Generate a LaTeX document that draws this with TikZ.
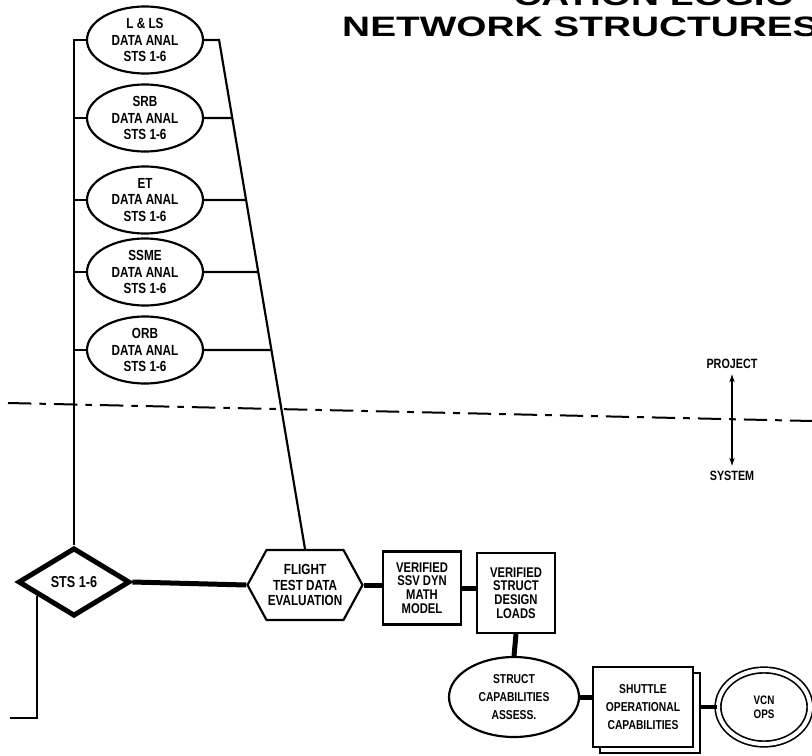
\documentclass[tikz,border=0pt]{standalone}
\usepackage{fontspec}
\setmainfont{Liberation Sans}
\newfontfamily\chartfont{Liberation Sans}[FakeStretch=0.8]
\newfontfamily\titlefont{Liberation Sans}[FakeStretch=1.38]
\usepackage{tikz}
\usetikzlibrary{
  shapes.geometric,
  shapes.symbols,
  arrows.meta,
  positioning,
  calc,
  shadows
}
\tikzset{
  anal/.style = {
    ellipse, draw, line width=0.65mm, inner sep=0pt,
    minimum width=34.8mm, minimum height=20.1mm,
    align=center, font=\chartfont\bfseries\fontsize{12.5}{14}\selectfont
  },
  flight/.style = {
    diamond, draw, line width=1.5mm, inner sep=0pt, aspect=1.6,
    minimum width=33.5mm, minimum height=20.5mm,
    font=\chartfont\bfseries\fontsize{13.5}{14}\selectfont
  },
  evalhex/.style = {
    signal, signal to=east and west, signal pointer angle=123,
    draw, line width=0.65mm, inner sep=0pt,
    minimum width=34.5mm, minimum height=21mm,
    align=center, font=\chartfont\bfseries\fontsize{12.5}{13.6}\selectfont
  },
  product/.style = {
    rectangle, draw, line width=0.65mm, inner sep=0pt,
    minimum width=#1, align=center,
    font=\chartfont\bfseries\fontsize{12}{11.6}\selectfont
  },
  product/.default = 23.5mm,
  assessnode/.style = {
    ellipse, draw, line width=0.65mm, inner sep=0pt,
    minimum width=39mm, minimum height=24mm,
    align=center, font=\chartfont\bfseries\fontsize{11}{15}\selectfont
  },
  docstack/.style = {
    rectangle, draw, fill=white, line width=0.65mm, inner sep=0pt,
    minimum width=30mm, minimum height=24mm,
    copy shadow={shadow xshift=2.1mm, shadow yshift=-1.8mm,
                 draw=black, fill=white, line width=0.65mm},
    align=center, font=\chartfont\bfseries\fontsize{11}{15}\selectfont
  },
  milestone/.style = {
    ellipse, draw, line width=0.5mm, double, double distance=1.2mm,
    inner sep=0pt, minimum width=27.6mm, minimum height=22.2mm,
    align=center, font=\chartfont\bfseries\fontsize{10.5}{12}\selectfont
  },
  levellbl/.style = {
    inner sep=1.6mm, font=\chartfont\bfseries\fontsize{11.5}{12}\selectfont
  },
  thinln/.style  = {draw, line width=0.65mm},
  thickln/.style = {draw, line width=1.5mm},
  levelarr/.style = {{Stealth[length=2.4mm, width=1.6mm]}-{Stealth[length=2.4mm, width=1.6mm]},
                     draw, line width=0.5mm},
  divider/.style = {draw, line width=0.6mm, dash pattern=on 7mm off 2.4mm on 2mm off 2.4mm},
}

\begin{document}
\begin{tikzpicture}[x=0.3mm, y=-0.3mm]

  \useasboundingbox (0,0) rectangle (812,755);
  \clip (0,0) rectangle (812,755);

  % Title
  \node[anchor=base east, inner sep=0pt,
        font=\titlefont\bfseries\fontsize{24}{26}\selectfont] (ttlone) at (793,6)
    {CATION LOGIC};
  \node[anchor=base west, inner sep=0pt,
        font=\titlefont\bfseries\fontsize{24}{26}\selectfont] (ttltwo) at (342,37)
    {NETWORK STRUCTURES};

  % Data analyses
  \node[anal] (lls)  at (145,40)  {L \& LS\\DATA ANAL\\STS 1-6};
  \node[anal] (srb)  at (145,118) {SRB\\DATA ANAL\\STS 1-6};
  \node[anal] (et)   at (145,200) {ET\\DATA ANAL\\STS 1-6};
  \node[anal] (ssme) at (145,272) {SSME\\DATA ANAL\\STS 1-6};
  \node[anal] (orb)  at (145,350) {ORB\\DATA ANAL\\STS 1-6};

  \node[flight] (sts) at (74,582) {STS 1-6};

  \node[evalhex] (fte) at (305,585) {FLIGHT\\TEST DATA\\EVALUATION};

  \node[product, minimum height=21.9mm] (dynmodel) at (422,588)
    {VERIFIED\\SSV DYN\\MATH\\MODEL};
  \node[product, minimum height=24mm] (loads) at (516,593)
    {VERIFIED\\STRUCT\\DESIGN\\LOADS};

  \node[assessnode] (assess) at (514,697) {STRUCT\\CAPABILITIES\\ASSESS.};
  \node[docstack] (shuttle) at (643,707) {SHUTTLE\\OPERATIONAL\\CAPABILITIES};
  \node[milestone] (vcn) at (764,707) {VCN\\OPS};

  % Project / system level
  \node[levellbl] (project) at (732,364) {PROJECT};
  \node[levellbl] (system)  at (732,476) {SYSTEM};
  \coordinate (dashL) at (8,403);
  \coordinate (dashR) at (812,421);
  \draw[divider] (dashL) -- (dashR);
  \draw[levelarr] (project) -- (system);

  % Connectors
  \draw[thinln] (lls.west) -- (lls.west -| sts.north) -- (sts.north);
  \draw[thinln] (srb.west) -- (srb.west -| sts.north);
  \draw[thinln] (et.west) -- (et.west -| sts.north);
  \draw[thinln] (ssme.west) -- (ssme.west -| sts.north);
  \draw[thinln] (orb.west) -- (orb.west -| sts.north);

  \coordinate (llsr) at ($(lls.east)+(15,0)$);
  \draw[thinln] (lls.east) -- (llsr) -- (fte.north);
  \coordinate (srbx) at ($(srb.east)+(10,0)$);
  \coordinate (etx) at ($(et.east)+(10,0)$);
  \coordinate (ssmex) at ($(ssme.east)+(10,0)$);
  \coordinate (orbx) at ($(orb.east)+(10,0)$);
  \draw[thinln] (srb.east) -- (intersection of srb.east--srbx and llsr--fte.north);
  \draw[thinln] (et.east) -- (intersection of et.east--etx and llsr--fte.north);
  \draw[thinln] (ssme.east) -- (intersection of ssme.east--ssmex and llsr--fte.north);
  \draw[thinln] (orb.east) -- (intersection of orb.east--orbx and llsr--fte.north);

  \coordinate (stsleg) at ($(sts.west)!0.37!(sts.south)$);
  \coordinate (offpage) at (10,718);
  \draw[thinln] (stsleg) |- (offpage);

  \draw[thickln] (sts.east) -- (fte.west);
  \draw[thickln] (fte.east) -- (fte.east -| dynmodel.west);
  \draw[thickln] (dynmodel.east) -- (dynmodel.east -| loads.west);
  \draw[thickln] (loads.south) -- (assess.north);
  \draw[thickln] (assess.east) -- (assess.east -| shuttle.west);
  \draw[line width=1.1mm, shorten <=2.1mm] (shuttle.east) -- (vcn.west);

\end{tikzpicture}
\end{document}
